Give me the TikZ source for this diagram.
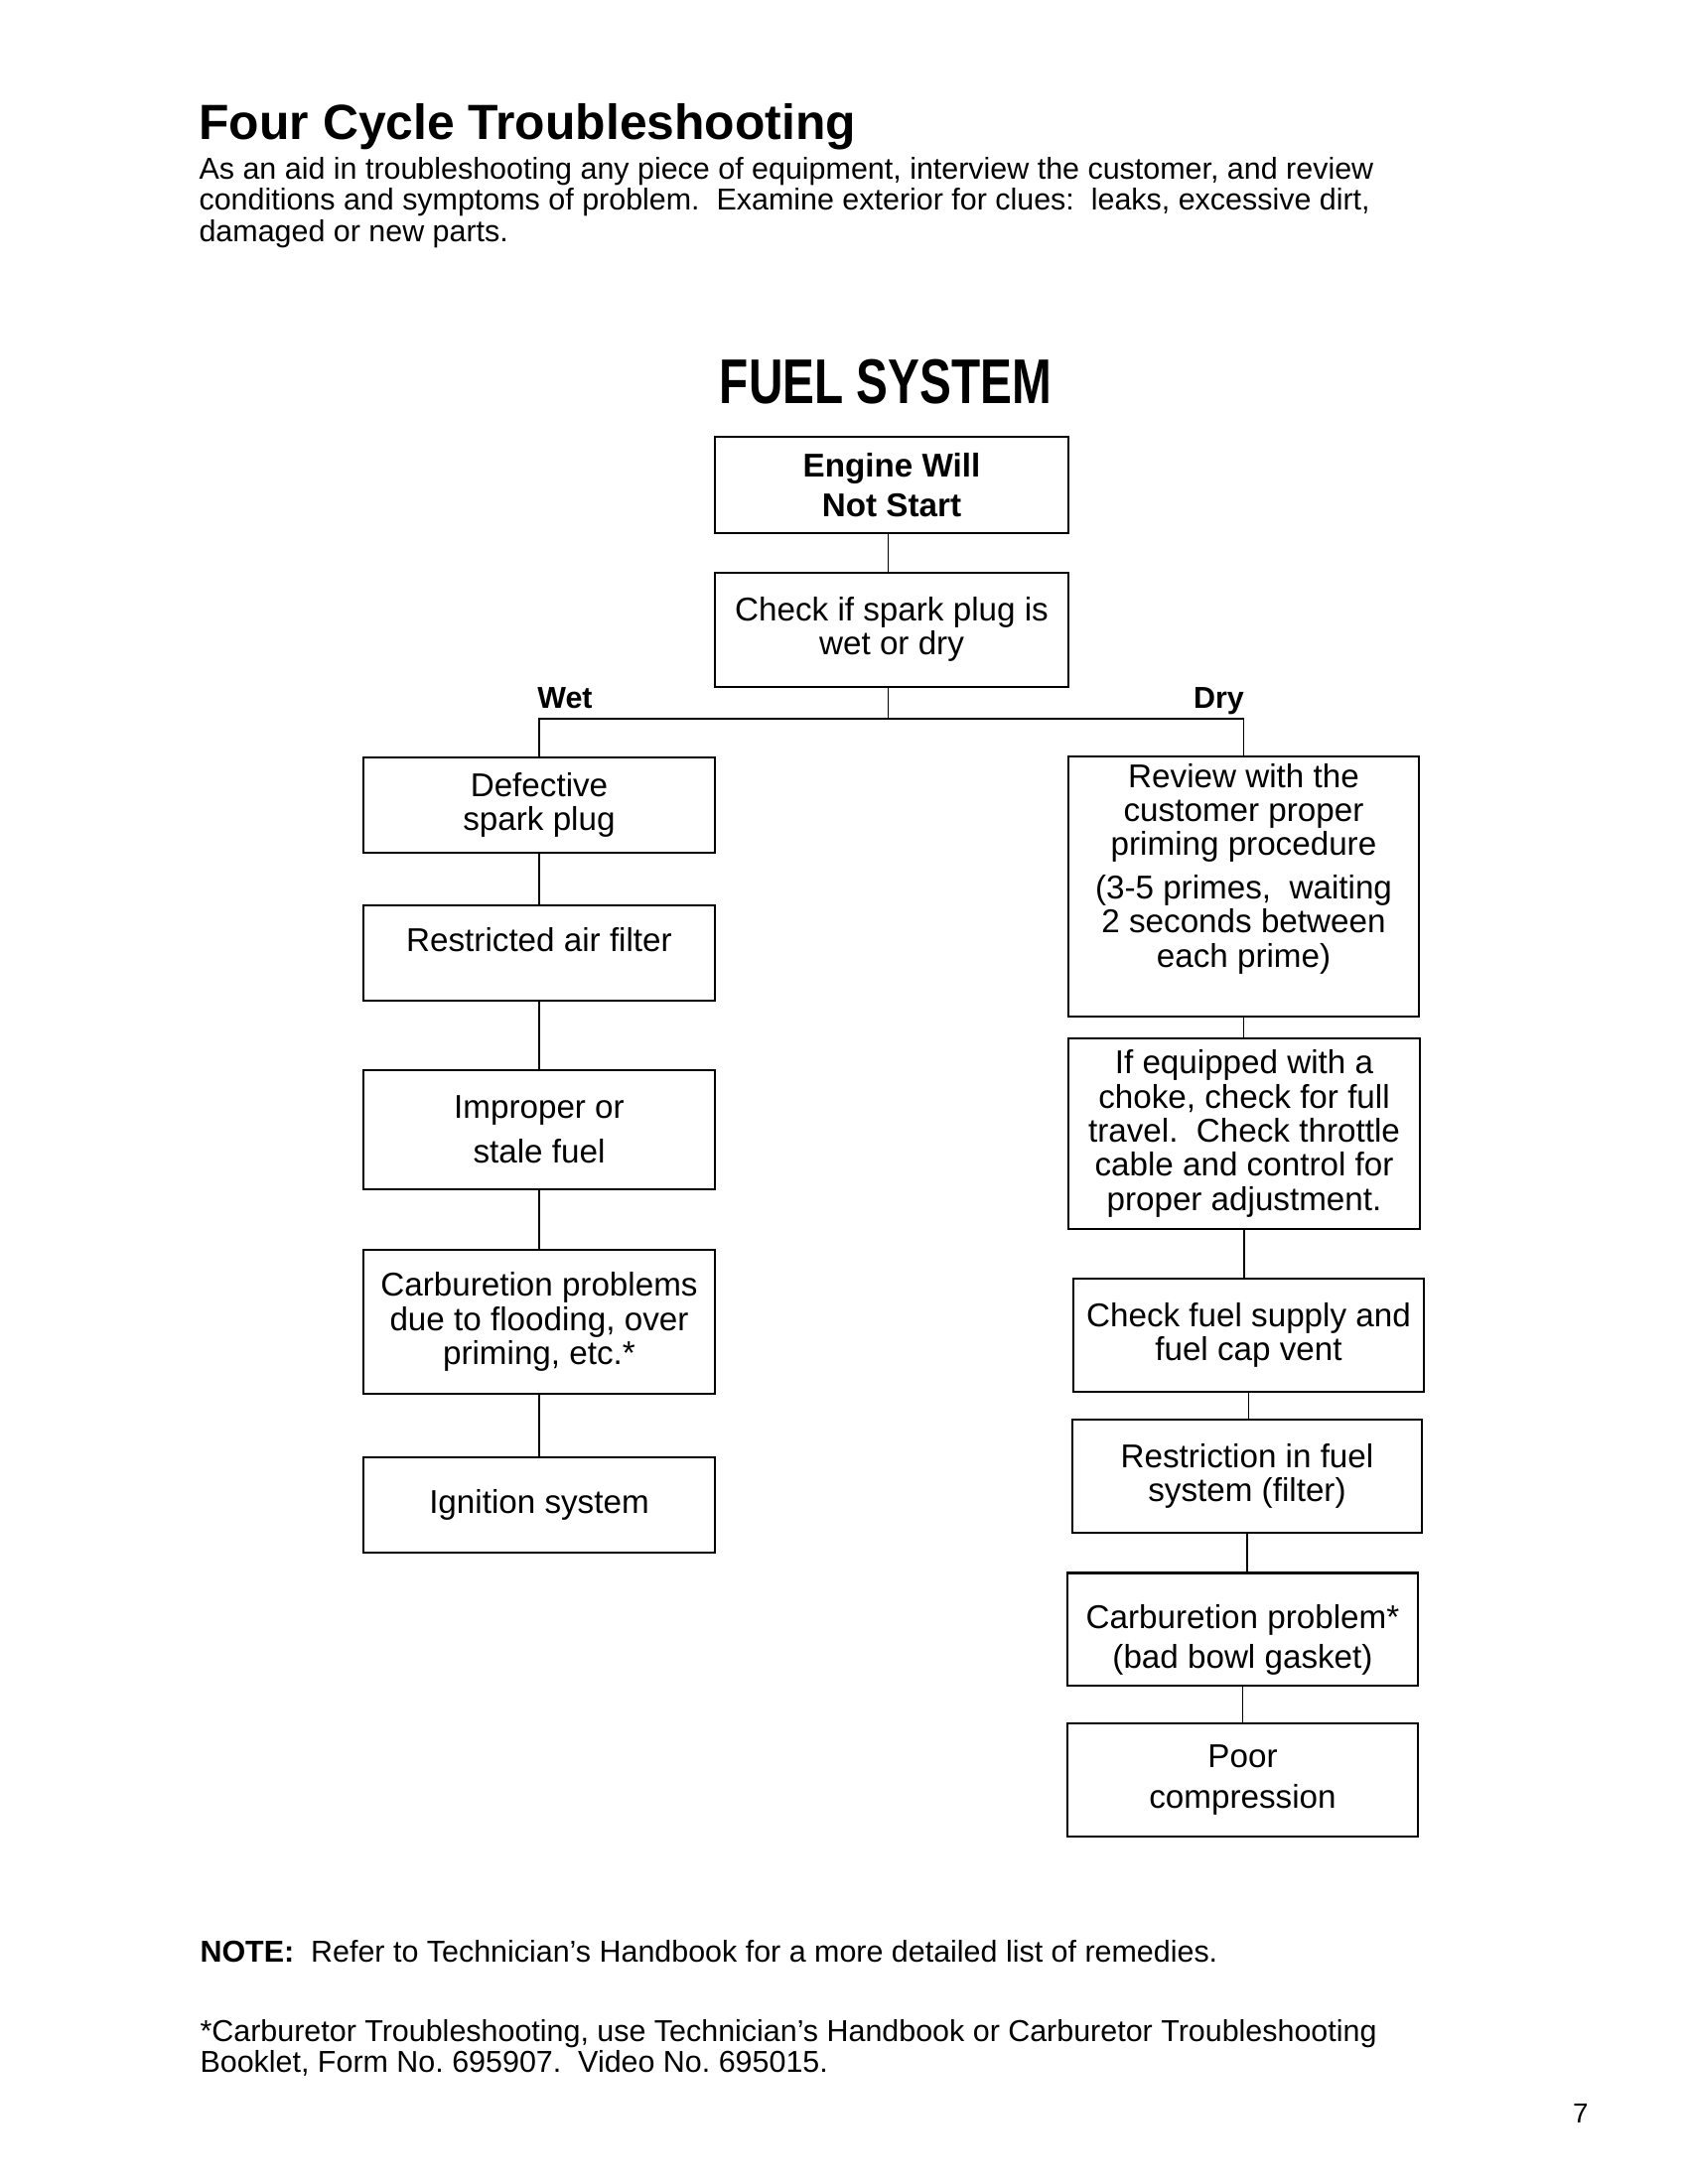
\documentclass[tikz,border=0pt]{standalone}
\usepackage{fontspec}
\setmainfont{Liberation Sans}
\usetikzlibrary{positioning}
\frenchspacing
\newcommand{\boxfont}{\fontsize{12}{12.4}\selectfont}
\newcommand{\introfont}{\fontsize{11}{11.4}\selectfont}

\begin{document}
\begin{tikzpicture}[x=1mm, y=-1mm,
  box/.style={draw, line width=0.8pt, align=center, font=\boxfont, inner sep=2pt, minimum width=44.9mm},
  link/.style={line width=0.6pt},
  lbl/.style={font=\fontsize{11}{13}\selectfont\bfseries, inner sep=0pt},
  txt/.style={font=\introfont, align=left, inner sep=0pt, anchor=base west}]
 \useasboundingbox (0,0) rectangle (215.9,279.4);
 % headings (multi-line texts sit on their last baseline)
 \node[anchor=base west, inner sep=0pt, font=\fontsize{18}{22}\selectfont\bfseries] (title) at (25.4,17.87) {Four Cycle Troubleshooting};
 \node[txt] (intro) at (25.4,30.9) {As an aid in troubleshooting any piece of equipment, interview the customer, and review\\conditions and symptoms of problem.\ \ Examine exterior for clues:\ \ leaks, excessive dirt,\\damaged or new parts.};
 \node[anchor=base, inner sep=0pt] (fuel) at (113.28,51.65) {\scalebox{0.75}[1]{\fontsize{23}{27}\selectfont\bfseries FUEL SYSTEM}};
 % top of the chart
 \node[box, minimum width=45.2mm, minimum height=12.3mm, font=\boxfont\bfseries] (engine) at (114.05,62.03) {Engine Will\\[2pt]Not Start};
 \node[box, minimum width=45.2mm, minimum height=14.6mm] (check) at (114.05,80.54) {Check if spark plug is\\wet or dry};
 % wet side
 \node[box, minimum height=12.15mm] (defect) at (68.96,103.0) {Defective\\spark plug};
 \node[box, minimum height=12.2mm] (airf) at (68.96,121.88) {Restricted air filter\\[-2.5pt]\mbox{}};
 \node[box, minimum height=15.24mm] (stale) at (68.96,144.49) {Improper or\\[3.7pt]stale fuel};
 \node[box, minimum height=18.42mm] (carbs) at (68.96,169.1) {Carburetion problems\\due to flooding, over\\priming, etc.*};
 \node[box, minimum height=12.1mm] (ign) at (68.96,192.53) {Ignition system};
 % dry side
 \node[box, minimum height=33.3mm] (review) at (159.07,113.4) {Review with the\\customer proper\\priming procedure\\[3.5pt](3-5 primes,\ \ waiting\\2 seconds between\\each prime)\\[3pt]\mbox{}};
 \node[box, minimum height=24.35mm] (choke) at (159.13,145.02) {If equipped with a\\choke, check for full\\travel.\ \ Check throttle\\cable and control for\\proper adjustment.};
 \node[box, minimum height=14.48mm] (supply) at (159.7,170.82) {Check fuel supply and\\fuel cap vent};
 \node[box, minimum width=44.7mm, minimum height=14.48mm] (restr) at (159.51,188.82) {Restriction in fuel\\system (filter)};
 \node[box, minimum height=14.38mm] (carb) at (158.94,208.42) {\mbox{}\\[4.1pt]Carburetion problem*\\[1.8pt](bad bowl gasket)};
 \node[box, minimum height=14.48mm] (poor) at (158.94,227.69) {Poor\\[2.3pt]compression};
 % connectors
 \coordinate (fork) at (113.6,91.95);
 \draw[link] (engine.south -| fork) -- (check.north -| fork);
 \draw[link] (check.south -| fork) -- (fork);
 \draw[link] (defect) |- (fork) -| (review);
 \node[lbl, anchor=base west] (wet) at (68.68,90.55) {Wet};
 \node[lbl, anchor=base east] (dry) at (159.19,90.55) {Dry};
 \foreach \u/\v in {defect/airf,airf/stale,stale/carbs,carbs/ign,review/choke,choke/supply,supply/restr,restr/carb,carb/poor}
   \draw[link] (\u.south) -- (\u.south |- \v.north);
 % notes
 \node[txt] (note) at (25.53,251.04) {\textbf{NOTE:}\ \ Refer to Technician's Handbook for a more detailed list of remedies.};
 \node[txt, font=\fontsize{11}{11.1}\selectfont] (foot) at (25.53,265.1) {*Carburetor Troubleshooting, use Technician's Handbook or Carburetor Troubleshooting\\Booklet, Form No. 695907.\ \ Video No. 695015.};
 \node[anchor=base, inner sep=0pt, font=\fontsize{10}{12}\selectfont] (page) at (202.15,271.56) {7};
\end{tikzpicture}
\end{document}
